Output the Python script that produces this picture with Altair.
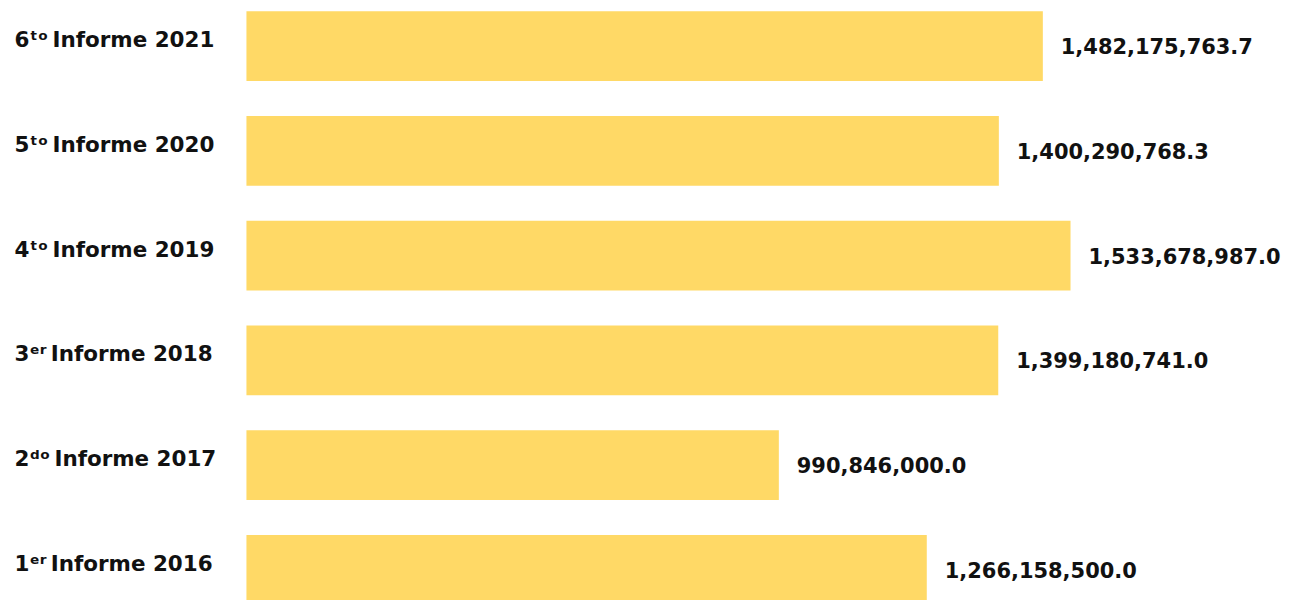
import altair as alt
import pandas as pd

labels = [
    "6ᵗᵒ\u2009Informe 2021",
    "5ᵗᵒ\u2009Informe 2020",
    "4ᵗᵒ\u2009Informe 2019",
    "3ᵉʳ\u2009Informe 2018",
    "2ᵈᵒ\u2009Informe 2017",
    "1ᵉʳ\u2009Informe 2016",
]
values = [1482175763.7, 1400290768.3, 1533678987.0, 1399180741.0, 990846000.0, 1266158500.0]

df = pd.DataFrame({"informe": labels, "monto": values})

FONT = "DejaVu Sans"

y = alt.Y(
    "informe:N",
    sort=labels,
    title=None,
    scale=alt.Scale(paddingInner=0.333, paddingOuter=0.0238),
    axis=alt.Axis(
        domain=False,
        ticks=False,
        labelAlign="left",
        labelPadding=233,
        labelOffset=-5,
        labelFont=FONT,
        labelFontSize=21.5,
        labelFontWeight="bold",
        labelColor="#111111",
        labelLimit=400,
    ),
)
x = alt.X("monto:Q", scale=alt.Scale(domain=[0, 1.9124e9], nice=False), axis=None)

bars = alt.Chart(df).mark_bar(color="#FFD966").encode(x=x, y=y)
text = alt.Chart(df).mark_text(
    align="left", baseline="middle", dx=18, dy=2, font=FONT, fontSize=21,
    fontWeight="bold", color="#111111"
).encode(x=x, y=y, text=alt.Text("monto:Q", format=",.1f"))

chart = (
    (bars + text)
    .properties(width=1030, height=600, padding={"left": 6, "top": 0, "right": 0, "bottom": 0})
    .configure_view(stroke=None)
)

chart.save("out.html", embed_options={"renderer": "svg", "actions": False})
